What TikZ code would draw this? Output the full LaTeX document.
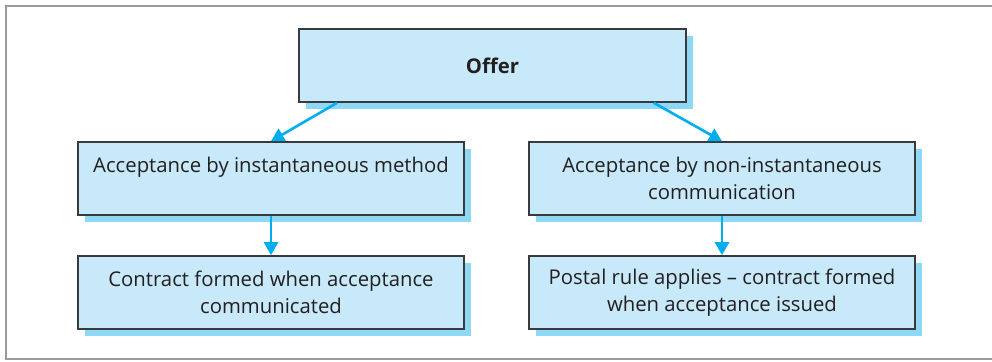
\documentclass[tikz,border=0pt]{standalone}
\usepackage{fontspec}
\setmainfont{Open Sans}
\usetikzlibrary{arrows.meta,shadows,calc}
\definecolor{boxfill}{HTML}{C7E9F9}
\definecolor{shadowc}{HTML}{8ED8F6}
\definecolor{arrowc}{HTML}{00AEEF}
\definecolor{edgec}{HTML}{3A3A3C}
\definecolor{framec}{HTML}{9A9A9C}
\definecolor{textc}{HTML}{231F20}
\tikzset{
  box/.style={draw=edgec, line width=1.6pt, fill=boxfill, text=textc,
    minimum width=386pt, minimum height=73pt, inner sep=0pt, align=center,
    font=\fontsize{20.3}{26.5}\selectfont,
    general shadow={shadow xshift=7pt, shadow yshift=-7pt, fill=shadowc}},
  link/.style={draw=arrowc, line width=2.6pt, -{Triangle[length=13pt,width=14pt]}}
}
\begin{document}
\begin{tikzpicture}[x=1pt,y=-1pt]
\useasboundingbox (0,0) rectangle (992,361);
\clip (0,0) rectangle (992,361);
\draw[framec, line width=2.2pt] (1010,6) -- (6,6) -- (6,359) -- (1010,359);
\node[box, minimum width=387pt, font=\bfseries\fontsize{20.3}{26.5}\selectfont] (offer) at (492.5,65.5) {Offer};
\node[box] (l1) at (271,178.5) {Acceptance by instantaneous method\\\phantom{communication}};
\node[box] (r1) at (722,178.5) {Acceptance by non-instantaneous\\communication};
\node[box] (l2) at (271,292.5) {Contract formed when acceptance\\communicated};
\node[box] (r2) at (722,292.5) {Postal rule applies -- contract formed\\when acceptance issued};
\draw[link] ($(offer.south west)!0.1!(offer.south east)$) -- (l1.north);
\draw[link] ($(offer.south west)!0.915!(offer.south east)$) -- (r1.north);
\draw[link] (l1.south) -- (l2.north);
\draw[link] (r1.south) -- (r2.north);
\end{tikzpicture}
\end{document}
